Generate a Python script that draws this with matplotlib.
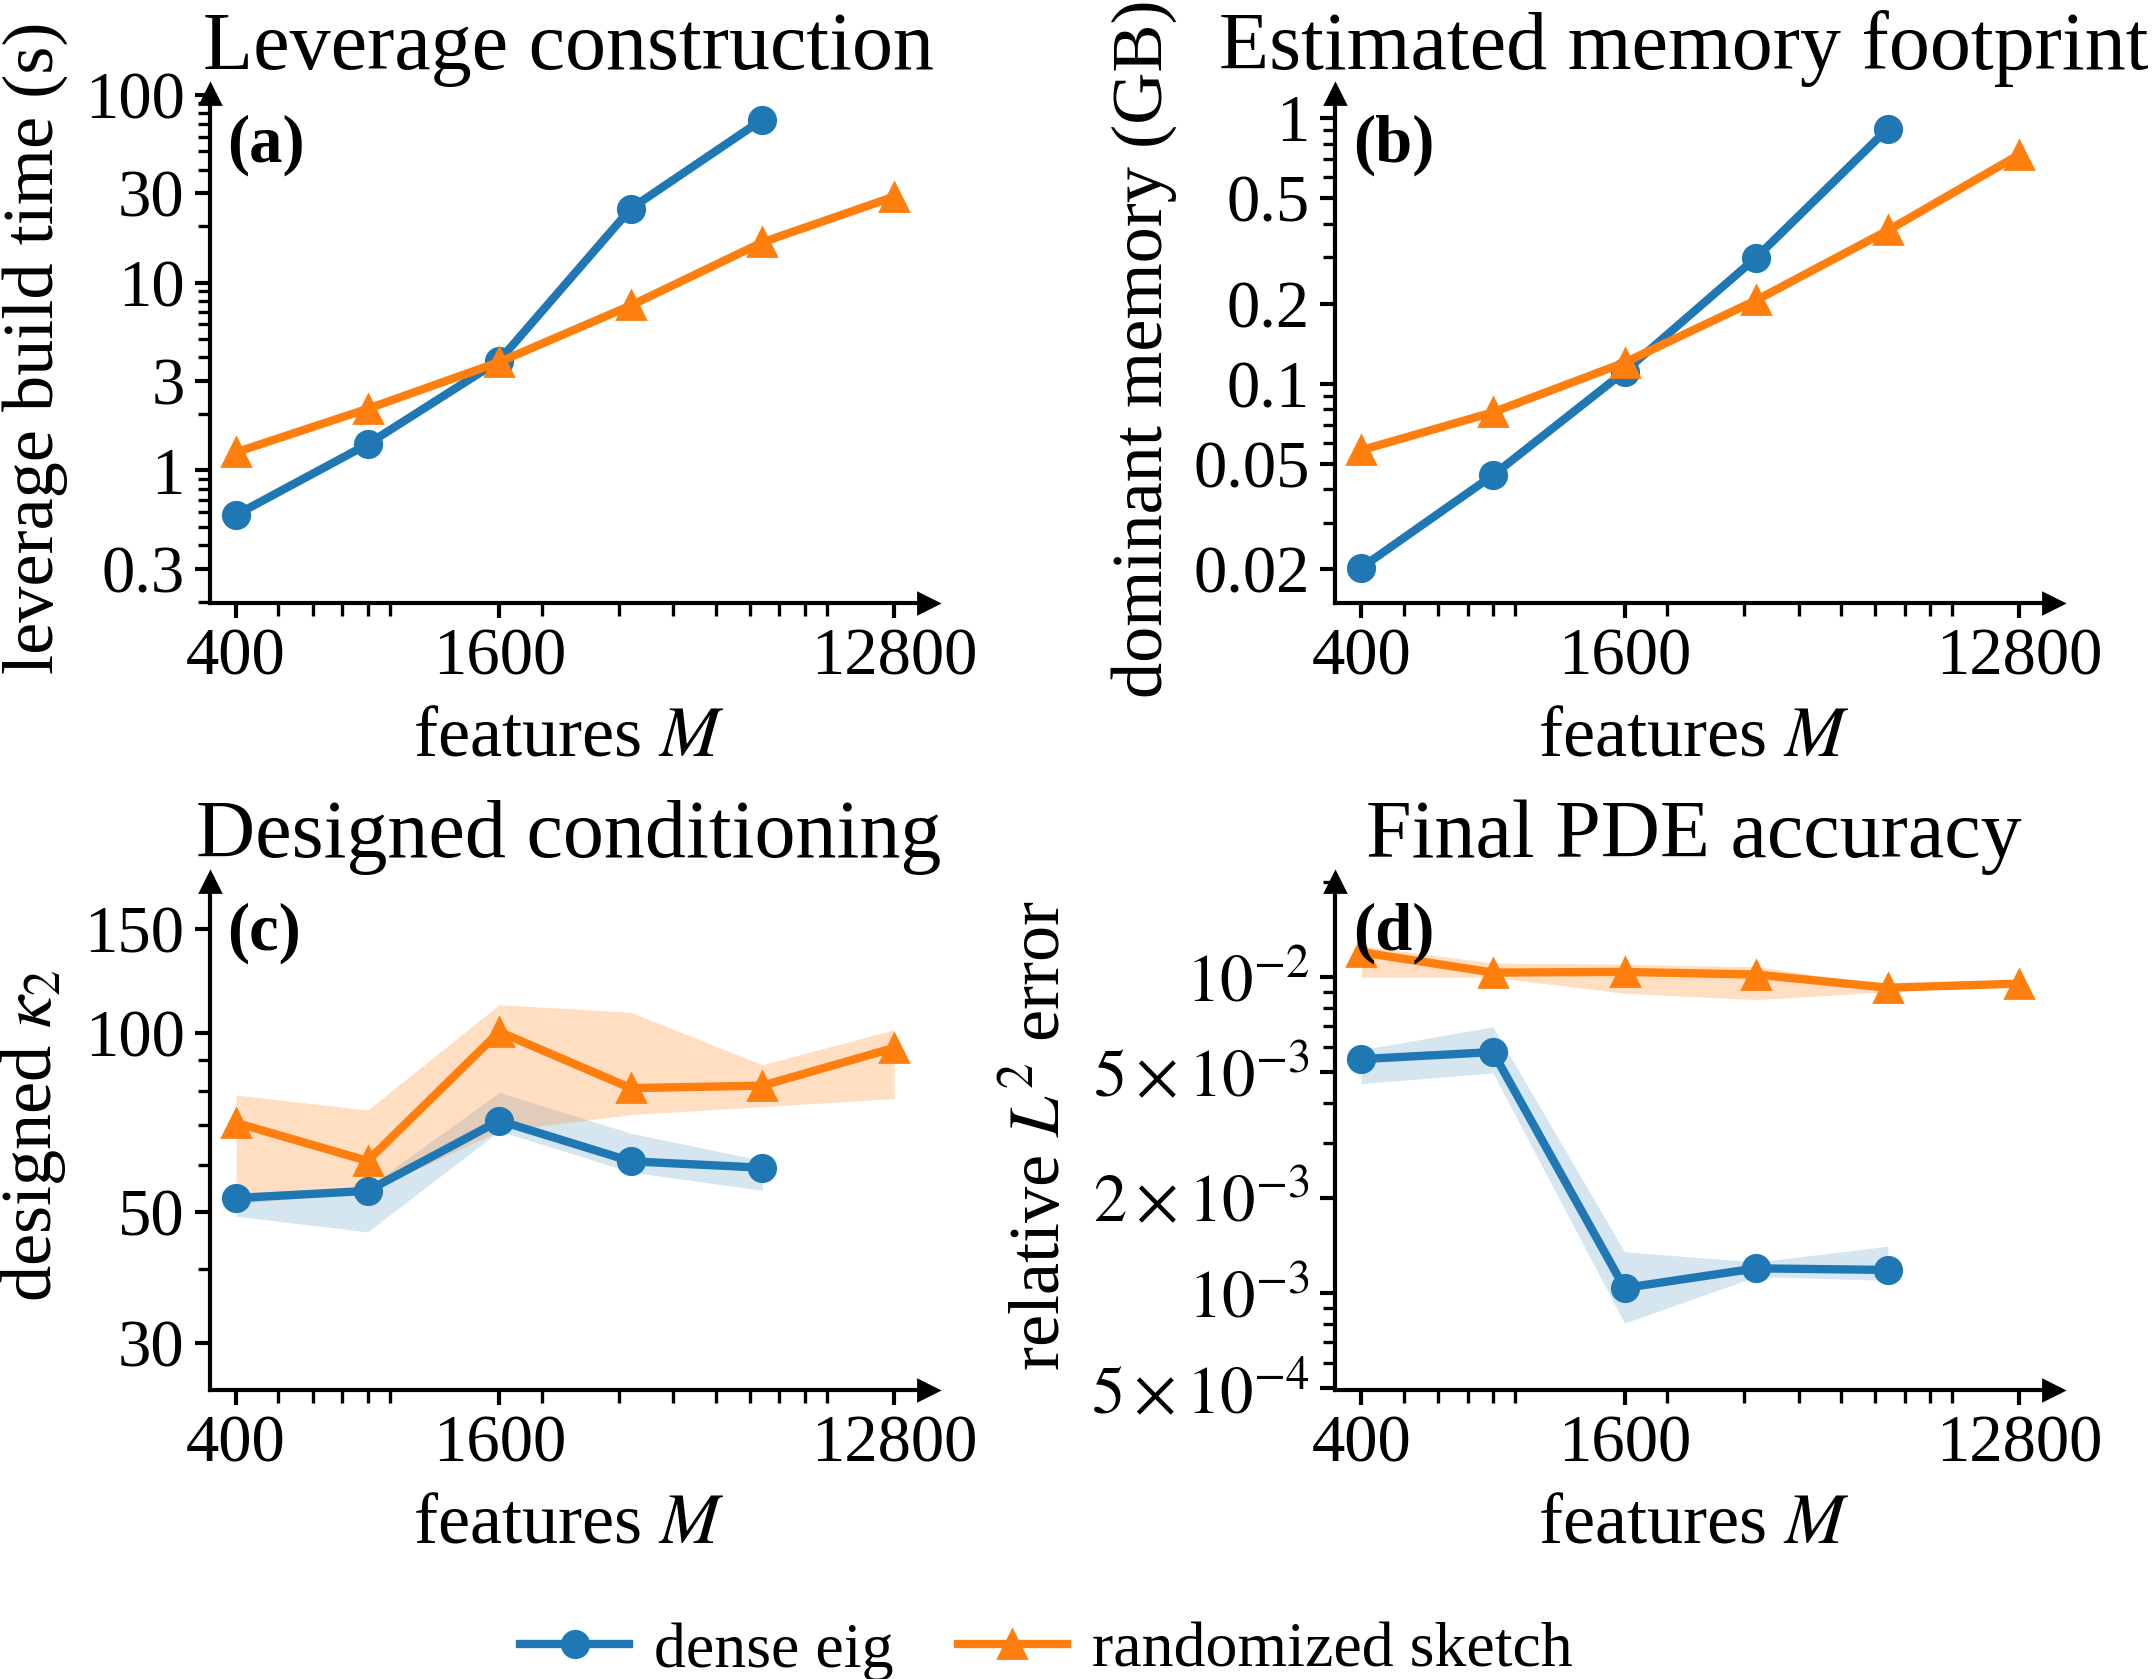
import numpy as np
import matplotlib
matplotlib.use('Agg')
import matplotlib.pyplot as plt
from matplotlib.ticker import LogLocator, NullFormatter, FixedLocator, FixedFormatter

plt.rcParams['font.family'] = 'Liberation Serif'
plt.rcParams['mathtext.fontset'] = 'stix'

# features M
M = [400, 800, 1600, 3200, 6400, 12800]
M_dense = M[:5]

# (a) leverage build time (s)
time_dense = [0.58, 1.38, 3.85, 24.8, 73.9]
time_rand = [1.25, 2.13, 3.78, 7.56, 16.4, 28.7]

# (b) dominant memory (GB)
mem_dense = [0.0203, 0.0452, 0.111, 0.298, 0.91]
mem_rand = [0.0562, 0.078, 0.12, 0.206, 0.377, 0.728]

# (c) designed kappa_2, with spread bands
kap_dense = [52.7, 54.2, 71.2, 60.8, 59.3]
kap_dense_lo = [49.1, 46.2, 68.4, 58.3, 54.3]
kap_dense_hi = [53.8, 55.0, 79.5, 67.8, 61.0]
kap_rand = [70.6, 60.9, 100.6, 80.8, 81.6, 94.5]
kap_rand_lo = [51.5, 54.0, 68.4, 72.9, 75.2, 77.6]
kap_rand_hi = [78.7, 74.2, 111.8, 108.5, 88.5, 101.4]

# (d) relative L2 error, with spread bands
err_dense = [5.51e-3, 5.8e-3, 1.04e-3, 1.2e-3, 1.186e-3]
err_dense_lo = [4.61e-3, 4.98e-3, 8.05e-4, 1.13e-3, 1.1e-3]
err_dense_hi = [5.9e-3, 6.97e-3, 1.355e-3, 1.256e-3, 1.41e-3]
err_rand = [1.2e-2, 1.035e-2, 1.04e-2, 1.02e-2, 9.27e-3, 9.55e-3]
err_rand_lo = [1.0e-2, 1.0e-2, 8.9e-3, 8.5e-3, 9.0e-3, 9.55e-3]
err_rand_hi = [1.256e-2, 1.11e-2, 1.1e-2, 1.08e-2, 9.4e-3, 9.55e-3]

blue = '#1f77b4'
orange = '#ff7f0e'

fig = plt.figure(figsize=(10.76, 8.395), dpi=200)
W, H = 0.3338, 0.3029
ax_a = fig.add_axes([0.0974, 0.6411, W, H])
ax_b = fig.add_axes([0.6203, 0.6411, W, H])
ax_c = fig.add_axes([0.0974, 0.1722, W, 0.3024])
ax_d = fig.add_axes([0.6203, 0.1722, W, 0.3024])


def style(ax, yticks, ylabels, ylim, title, ylabel, tag, tx=0.5):
    ax.set_xscale('log')
    ax.set_yscale('log')
    ax.set_xlim(348, 15300)
    ax.set_ylim(*ylim)
    ax.xaxis.set_major_locator(FixedLocator([400, 1600, 12800]))
    ax.xaxis.set_major_formatter(FixedFormatter(['400', '1600', '12800']))
    ax.xaxis.set_minor_locator(LogLocator(base=10, subs=np.arange(2, 10)))
    ax.xaxis.set_minor_formatter(NullFormatter())
    ax.yaxis.set_major_locator(FixedLocator(yticks))
    ax.yaxis.set_major_formatter(FixedFormatter(ylabels))
    ax.yaxis.set_minor_locator(LogLocator(base=10, subs=np.arange(2, 10)))
    ax.yaxis.set_minor_formatter(NullFormatter())
    ax.spines['top'].set_visible(False)
    ax.spines['right'].set_visible(False)
    ax.spines['left'].set_linewidth(1.5)
    ax.spines['bottom'].set_linewidth(1.5)
    ax.tick_params(which='major', labelsize=24, length=5.5, width=1.5)
    ax.tick_params(which='minor', length=4.5, width=1.2)
    ax.plot(1, 0, '>k', ms=7, transform=ax.transAxes, clip_on=False)
    ax.plot(0, 1, '^k', ms=7, transform=ax.transAxes, clip_on=False)
    ax.set_title(title, fontsize=29.5, pad=9, x=tx)
    ax.set_xlabel('features $M$', fontsize=26, labelpad=6)
    ax.set_ylabel(ylabel, fontsize=26, labelpad=6)
    ax.text(0.025, 0.96, tag, transform=ax.transAxes, fontsize=24,
            fontweight='bold', va='top', ha='left')


lw = 3.0
ms_o = 9.5
ms_t = 10

ax_a.plot(M_dense, time_dense, '-o', color=blue, lw=lw, ms=ms_o, label='dense eig')
ax_a.plot(M, time_rand, '-^', color=orange, lw=lw, ms=ms_t, label='randomized sketch')
style(ax_a, [0.3, 1, 3, 10, 30, 100], ['0.3', '1', '3', '10', '30', '100'],
      (0.198, 101), 'Leverage construction', 'leverage build time (s)', '(a)')

ax_b.plot(M_dense, mem_dense, '-o', color=blue, lw=lw, ms=ms_o)
ax_b.plot(M, mem_rand, '-^', color=orange, lw=lw, ms=ms_t)
style(ax_b, [0.02, 0.05, 0.1, 0.2, 0.5, 1], ['0.02', '0.05', '0.1', '0.2', '0.5', '1'],
      (0.015, 1.23), 'Estimated memory footprint', 'dominant memory (GB)', '(b)',
      tx=0.486)

ax_c.fill_between(M_dense, kap_dense_lo, kap_dense_hi, color=blue, alpha=0.18, lw=0)
ax_c.fill_between(M, kap_rand_lo, kap_rand_hi, color=orange, alpha=0.25, lw=0)
ax_c.plot(M_dense, kap_dense, '-o', color=blue, lw=lw, ms=ms_o)
ax_c.plot(M, kap_rand, '-^', color=orange, lw=lw, ms=ms_t)
style(ax_c, [30, 50, 100, 150], ['30', '50', '100', '150'],
      (25, 180), 'Designed conditioning', r'designed $\kappa_2$', '(c)')

ax_d.fill_between(M_dense, err_dense_lo, err_dense_hi, color=blue, alpha=0.18, lw=0)
ax_d.fill_between(M, err_rand_lo, err_rand_hi, color=orange, alpha=0.25, lw=0)
ax_d.plot(M_dense, err_dense, '-o', color=blue, lw=lw, ms=ms_o)
ax_d.plot(M, err_rand, '-^', color=orange, lw=lw, ms=ms_t)
style(ax_d, [5e-4, 1e-3, 2e-3, 5e-3, 1e-2],
      [r'$5\times10^{-4}$', r'$10^{-3}$', r'$2\times10^{-3}$', r'$5\times10^{-3}$', r'$10^{-2}$'],
      (4.95e-4, 2.0e-2), 'Final PDE accuracy', r'relative $L^2$ error', '(d)')

handles, labels = ax_a.get_legend_handles_labels()
fig.legend(handles, labels, loc='center', bbox_to_anchor=(0.4863, 0.0165),
           ncol=2, frameon=False, fontsize=23, handlelength=1.7,
           handletextpad=0.4, columnspacing=1.0)

fig.savefig('out.png', dpi=200)
